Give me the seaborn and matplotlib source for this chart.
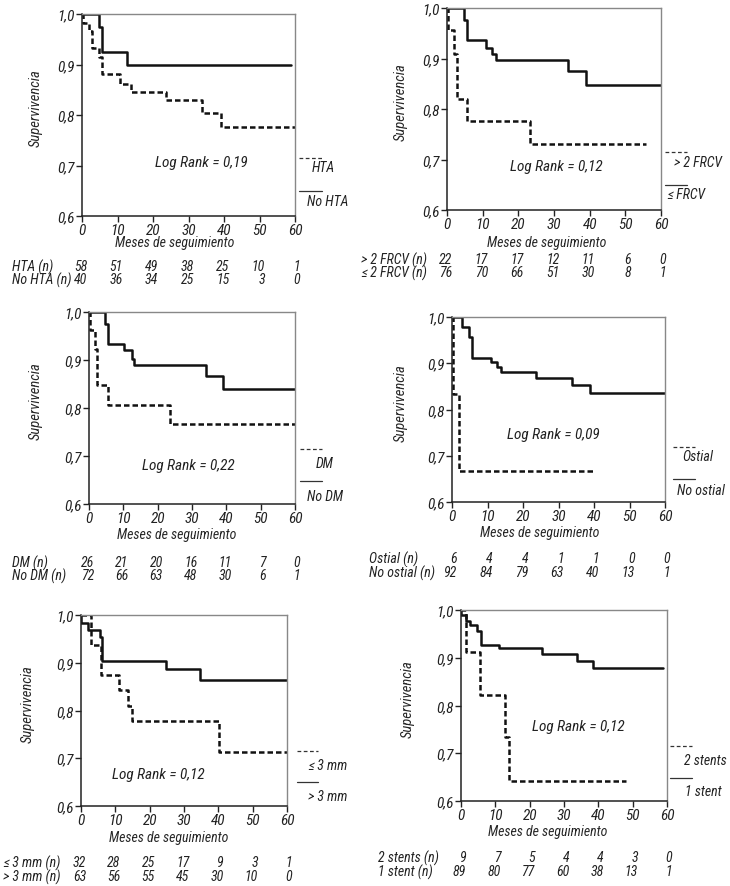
import matplotlib
matplotlib.use('Agg')
import matplotlib.pyplot as plt
import matplotlib.transforms as mtransforms
from matplotlib.lines import Line2D
import seaborn as sns

# ---- curvas de supervivencia (meses, supervivencia) ----
hta_t = [0, 0.2, 1.9, 2.8, 4.7, 5.6, 10.6, 13.9, 23.7, 33.7, 39.1, 60]
hta_s = [1.0, 0.983, 0.966, 0.932, 0.914, 0.881, 0.862, 0.846, 0.829, 0.804, 0.777, 0.777]
nohta_t = [0, 4.7, 5.6, 12.7, 58.9]
nohta_s = [1.0, 0.975, 0.925, 0.9, 0.9]

frcv_gt_t = [0, 0.2, 1.9, 2.8, 5.7, 23.2, 55.9]
frcv_gt_s = [1.0, 0.957, 0.909, 0.82, 0.777, 0.73, 0.73]
frcv_le_t = [0, 4.8, 5.7, 10.8, 12.6, 13.7, 33.8, 39.0, 60]
frcv_le_s = [1.0, 0.976, 0.937, 0.921, 0.909, 0.897, 0.876, 0.848, 0.848]

dm_t = [0, 0.2, 1.7, 2.3, 5.6, 23.7, 60]
dm_s = [1.0, 0.962, 0.923, 0.847, 0.807, 0.766, 0.766]
nodm_t = [0, 4.7, 5.6, 10.2, 12.4, 13.2, 34.0, 39.1, 60]
nodm_s = [1.0, 0.976, 0.934, 0.92, 0.903, 0.89, 0.866, 0.84, 0.84]

ostial_t = [0, 0.3, 2.0, 39.8]
ostial_s = [1.0, 0.833, 0.667, 0.667]
noostial_t = [0, 2.7, 4.7, 5.7, 10.9, 12.8, 13.9, 23.8, 33.7, 38.9, 60]
noostial_s = [1.0, 0.978, 0.956, 0.912, 0.903, 0.892, 0.881, 0.869, 0.852, 0.836, 0.836]

le3_t = [0, 3.0, 5.8, 11.2, 13.8, 14.8, 40.3, 60]
le3_s = [1.0, 0.937, 0.874, 0.843, 0.81, 0.778, 0.714, 0.714]
gt3_t = [0, 0.1, 1.9, 5.6, 6.2, 24.8, 34.8, 60]
gt3_s = [1.0, 0.983, 0.968, 0.953, 0.903, 0.887, 0.864, 0.864]

st2_t = [0, 1.6, 5.6, 12.9, 14.1, 48.0]
st2_s = [1.0, 0.913, 0.823, 0.733, 0.641, 0.641]
st1_t = [0, 0.1, 1.4, 2.7, 4.6, 5.9, 11.0, 23.7, 33.9, 38.5, 58.9]
st1_s = [1.0, 0.989, 0.978, 0.968, 0.955, 0.927, 0.92, 0.908, 0.893, 0.878, 0.878]

# ---- pacientes en riesgo ----
months = [0, 10, 20, 30, 40, 50, 60]
hta_n = [58, 51, 49, 38, 25, 10, 1]
nohta_n = [40, 36, 34, 25, 15, 3, 0]
frcv_gt_n = [22, 17, 17, 12, 11, 6, 0]
frcv_le_n = [76, 70, 66, 51, 30, 8, 1]
dm_n = [26, 21, 20, 16, 11, 7, 0]
nodm_n = [72, 66, 63, 48, 30, 6, 1]
ostial_n = [6, 4, 4, 1, 1, 0, 0]
noostial_n = [92, 84, 79, 63, 40, 13, 1]
le3_n = [32, 28, 25, 17, 9, 3, 1]
gt3_n = [63, 56, 55, 45, 30, 10, 0]
st2_n = [9, 7, 5, 4, 4, 3, 0]
st1_n = [89, 80, 77, 60, 38, 13, 1]

W, H = 730, 887

sns.set_style('ticks')
plt.rcParams['font.family'] = ['Roboto Condensed', 'Open Sans Condensed',
                               'Liberation Sans Narrow', 'Roboto', 'DejaVu Sans']
plt.rcParams['font.style'] = 'italic'
plt.rcParams['text.color'] = '#222222'

fig = plt.figure(figsize=(W / 100, H / 100), dpi=100)


def fx(x):
    return x / W


def fy(y):
    return 1 - y / H


panels = [
    # caja de ejes (izq, der, arriba, abajo) en px, curvas, leyenda, riesgo
    dict(box=(82, 295, 15, 217),
         dashed=(hta_t, hta_s), solid=(nohta_t, nohta_s),
         lr='Log Rank = 0,19', lrpos=(33.5, 0.707),
         leg=((299, 322, 159, 'HTA', 335, 168, 'right'), (299, 322, 192, 'No HTA', 307, 202, 'left')),
         risk=(('HTA (n)', hta_n, 267), ('No HTA (n)', nohta_n, 280)), rx=12,
         ylx=39, xl=(175, 243)),
    dict(box=(447, 661, 9, 211),
         dashed=(frcv_gt_t, frcv_gt_s), solid=(frcv_le_t, frcv_le_s),
         lr='Log Rank = 0,12', lrpos=(30.6, 0.688),
         leg=((665, 687, 153, '> 2 FRCV', 722, 163, 'right'), (665, 687, 186, '≤ FRCV', 667, 195, 'left')),
         risk=(('> 2 FRCV (n)', frcv_gt_n, 260), ('≤ 2 FRCV (n)', frcv_le_n, 273)), rx=361,
         ylx=39, xl=(547, 243)),
    dict(box=(89, 295, 313, 505),
         dashed=(dm_t, dm_s), solid=(nodm_t, nodm_s),
         lr='Log Rank = 0,22', lrpos=(29.0, 0.682),
         leg=((300, 322, 450, 'DM', 333, 464, 'right'), (300, 322, 482, 'No DM', 307, 497, 'left')),
         risk=(('DM (n)', dm_n, 563), ('No DM (n)', nodm_n, 576)), rx=12,
         ylx=46, xl=(177, 535)),
    dict(box=(452, 665, 318, 503),
         dashed=(ostial_t, ostial_s), solid=(noostial_t, noostial_s),
         lr='Log Rank = 0,09', lrpos=(28.6, 0.747),
         leg=((673, 695, 448, 'Ostial', 713, 457, 'right'), (673, 695, 480, 'No ostial', 677, 491, 'left')),
         risk=(('Ostial (n)', ostial_n, 559), ('No ostial (n)', noostial_n, 573)), rx=369,
         ylx=44, xl=(540, 533)),
    dict(box=(81, 287, 616, 807),
         dashed=(le3_t, le3_s), solid=(gt3_t, gt3_s),
         lr='Log Rank = 0,12', lrpos=(22.4, 0.666),
         leg=((297, 318, 752, '≤ 3 mm', 347, 766, 'right'), (297, 318, 783, '> 3 mm', 347, 797, 'right')),
         risk=(('≤ 3 mm (n)', le3_n, 863), ('> 3 mm (n)', gt3_n, 877)), rx=3,
         ylx=46, xl=(169, 838)),
    dict(box=(461, 667, 611, 802),
         dashed=(st2_t, st2_s), solid=(st1_t, st1_s),
         lr='Log Rank = 0,12', lrpos=(34.2, 0.757),
         leg=((670, 692, 747, '2 stents', 727, 761, 'right'), (670, 692, 779, '1 stent', 722, 792, 'right')),
         risk=(('2 stents (n)', st2_n, 858), ('1 stent (n)', st1_n, 872)), rx=378,
         ylx=46, xl=(548, 832)),
]

fs = 10

for p in panels:
    l, r, t, b = p['box']
    ax = fig.add_axes([fx(l), fy(b), (r - l) / W, (b - t) / H])

    sns.lineplot(x=p['solid'][0], y=p['solid'][1], drawstyle='steps-post',
                 estimator=None, sort=False, color='#111111', lw=1.8, ax=ax)
    sns.lineplot(x=p['dashed'][0], y=p['dashed'][1], drawstyle='steps-post',
                 estimator=None, sort=False, color='#111111', lw=1.8,
                 dashes=False, ax=ax)
    ax.lines[-1].set_linestyle((0, (2.2, 1.2)))

    ax.set_xlim(0, 60)
    ax.set_ylim(0.6, 1.0)
    ax.set_xticks(months)
    ax.set_yticks([0.6, 0.7, 0.8, 0.9, 1.0])
    ax.set_yticklabels(['0,6', '0,7', '0,8', '0,9', '1,0'])
    ax.tick_params(labelsize=fs + 1, length=4, width=1, colors='#222222', pad=1)
    for s in ['left', 'bottom']:
        ax.spines[s].set_color('#222222')
        ax.spines[s].set_linewidth(1.1)
    for s in ['top', 'right']:
        ax.spines[s].set_visible(True)
        ax.spines[s].set_color('#888888')
        ax.spines[s].set_linewidth(1)

    ax.set_ylabel('Supervivencia', fontsize=fs + 0.5)
    ax.yaxis.set_label_coords(-p['ylx'] / (r - l), 0.54)
    ax.set_xlabel('Meses de seguimiento', fontsize=fs, va='center')
    xl_x, xl_y = p['xl']
    ax.xaxis.set_label_coords((xl_x - l) / (r - l), -(xl_y - b) / (b - t))

    ax.text(p['lrpos'][0], p['lrpos'][1], p['lr'], fontsize=fs + 1,
            ha='center', va='center')

    # leyenda manual a la derecha
    for (x0, x1, ly, txt, tx, ty, ha), ls in zip(p['leg'], [(0, (3, 2)), '-']):
        fig.add_artist(Line2D([fx(x0), fx(x1)], [fy(ly), fy(ly)],
                              color='#333333', lw=0.9, linestyle=ls))
        fig.text(fx(tx), fy(ty), txt, fontsize=fs, ha=ha, va='center')

    # tabla de pacientes en riesgo
    trans = mtransforms.blended_transform_factory(ax.transData, fig.transFigure)
    for lab, counts, ry in p['risk']:
        fig.text(fx(p['rx']), fy(ry), lab, fontsize=fs, ha='left', va='center')
        for m, n in zip(months, counts):
            ax.text(m + 1.5, fy(ry), str(n), fontsize=fs, ha='right',
                    va='center', transform=trans)

fig.savefig('out.png', dpi=100)
